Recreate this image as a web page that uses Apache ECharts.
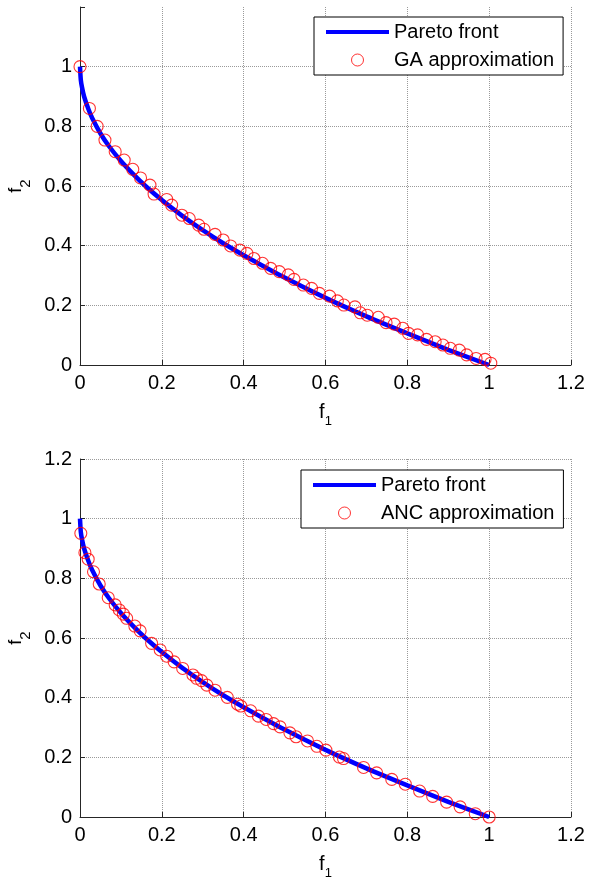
<!DOCTYPE html>
<html>
<head>
<meta charset="utf-8">
<script src="https://cdn.jsdelivr.net/npm/echarts@6/dist/echarts.min.js"></script>
<style>
  html, body { margin: 0; padding: 0; background: #fff; }
  #chart1 { width: 594px; height: 880px; }
</style>
</head>
<body>
<div id="chart1"></div>
<script>
// Pareto front (same curve in both panels)
var frontF1 = [0, 0.002, 0.005, 0.01, 0.02, 0.03, 0.05, 0.07, 0.1, 0.13, 0.16, 0.2, 0.25, 0.3, 0.35, 0.4, 0.5, 0.6, 0.7, 0.8, 0.9, 1.0];
var frontF2 = [1, 0.955, 0.93, 0.9, 0.86, 0.827, 0.776, 0.735, 0.684, 0.64, 0.6, 0.553, 0.5, 0.452, 0.408, 0.368, 0.293, 0.225, 0.163, 0.106, 0.051, 0];

// GA approximation (top panel)
var gaF1 = [0, 0.023, 0.042, 0.061, 0.086, 0.108, 0.129, 0.148, 0.171, 0.181, 0.212, 0.224, 0.249, 0.267, 0.290, 0.303, 0.330, 0.350, 0.368, 0.391, 0.408, 0.425, 0.446, 0.466, 0.487, 0.509, 0.523, 0.546, 0.566, 0.585, 0.610, 0.629, 0.645, 0.672, 0.685, 0.702, 0.729, 0.748, 0.768, 0.789, 0.803, 0.825, 0.847, 0.868, 0.887, 0.905, 0.927, 0.945, 0.968, 0.990, 1.004];
var gaF2 = [1.0, 0.86, 0.80, 0.754, 0.715, 0.687, 0.656, 0.627, 0.603, 0.573, 0.555, 0.536, 0.502, 0.491, 0.469, 0.455, 0.438, 0.419, 0.399, 0.385, 0.374, 0.357, 0.341, 0.324, 0.313, 0.302, 0.287, 0.268, 0.257, 0.240, 0.231, 0.215, 0.201, 0.195, 0.175, 0.167, 0.160, 0.142, 0.137, 0.123, 0.106, 0.101, 0.086, 0.078, 0.067, 0.056, 0.050, 0.034, 0.022, 0.019, 0.006];

// ANC approximation (bottom panel)
var ancF1 = [0.002, 0.012, 0.020, 0.033, 0.047, 0.069, 0.086, 0.096, 0.106, 0.114, 0.134, 0.147, 0.175, 0.196, 0.212, 0.230, 0.251, 0.276, 0.285, 0.297, 0.310, 0.330, 0.360, 0.385, 0.393, 0.417, 0.436, 0.455, 0.473, 0.489, 0.513, 0.528, 0.556, 0.579, 0.601, 0.634, 0.644, 0.693, 0.725, 0.762, 0.795, 0.830, 0.862, 0.896, 0.929, 0.966, 1.000];
var ancF2 = [0.951, 0.886, 0.864, 0.822, 0.781, 0.735, 0.711, 0.694, 0.680, 0.666, 0.640, 0.624, 0.582, 0.560, 0.539, 0.520, 0.498, 0.476, 0.465, 0.457, 0.442, 0.425, 0.401, 0.378, 0.372, 0.356, 0.338, 0.327, 0.313, 0.302, 0.282, 0.269, 0.255, 0.237, 0.224, 0.201, 0.196, 0.166, 0.148, 0.126, 0.110, 0.087, 0.069, 0.050, 0.034, 0.011, 0.000];

var axisMin = 0, axisMax = 1.2, axisStep = 0.2;

function pairs(xs, ys) {
    var out = [];
    for (var i = 0; i < xs.length; i++) out.push([xs[i], ys[i]]);
    return out;
}

var font = 'Liberation Sans, Arial, Helvetica, sans-serif';
var xNameRich = {
    f: { fontSize: 20, fontFamily: font, color: '#000' },
    s: { fontSize: 13, fontFamily: font, color: '#000', padding: [19, 0, 0, 0] }
};
// rotated y name: subscript sits further down
var yNameRich = {
    f: { fontSize: 18, fontFamily: font, color: '#000' },
    s: { fontSize: 15, fontFamily: font, color: '#000', padding: [20, 0, 0, 0] }
};

function xAx(grid) {
    return {
        type: 'value', gridIndex: grid, min: axisMin, max: axisMax, interval: axisStep,
        name: '{f|f}{s|1}', nameLocation: 'middle', nameGap: 31,
        nameTextStyle: { rich: xNameRich },
        axisLine: { show: true, onZero: false, lineStyle: { color: '#262626', width: 1 } },
        axisTick: { show: true, inside: true, length: 5, lineStyle: { color: '#262626' } },
        axisLabel: { fontSize: 20, fontFamily: font, color: '#000', margin: 8 },
        splitLine: { show: true, lineStyle: { color: '#9a9a9a', type: 'dotted', width: 1 } }
    };
}

function yAx(grid, hideTop) {
    return {
        type: 'value', gridIndex: grid, min: axisMin, max: axisMax, interval: axisStep,
        name: '{f|f}{s|2}', nameLocation: 'middle', nameGap: 45, nameRotate: 90,
        nameTextStyle: { rich: yNameRich },
        axisLine: { show: true, onZero: false, lineStyle: { color: '#262626', width: 1 } },
        axisTick: { show: true, inside: true, length: 5, lineStyle: { color: '#262626' } },
        axisLabel: {
            fontSize: 20, fontFamily: font, color: '#000', margin: 8,
            formatter: function (v) { return (hideTop && v > 1.1) ? '' : String(+v.toFixed(1)); }
        },
        splitLine: { show: true, showMaxLine: !hideTop, lineStyle: { color: '#9a9a9a', type: 'dotted', width: 1 } }
    };
}

function legendFor(name2, left, top) {
    return {
        orient: 'vertical', left: left, top: top,
        padding: [5, 9, 5, 12], itemGap: 8, itemWidth: 63, itemHeight: 12, itemTextGap: 5,
        backgroundColor: '#fff', borderColor: '#000', borderWidth: 1, borderRadius: 0,
        selectedMode: false,
        textStyle: { fontSize: 20, fontFamily: font, color: '#000' },
        data: [
            { name: 'Pareto front', icon: 'path://M0,0H63V4H0Z', itemStyle: { color: '#0000ff' } },
            { name: name2, icon: 'circle', itemStyle: { color: 'transparent', borderColor: '#ff0000', borderWidth: 1 } }
        ]
    };
}

function frontSeries(idx) {
    return {
        name: 'Pareto front', type: 'line', xAxisIndex: idx, yAxisIndex: idx,
        data: pairs(frontF1, frontF2), symbol: 'none', smooth: 0.2, z: 2,
        color: '#0000ff', lineStyle: { color: '#0000ff', width: 4.5 }
    };
}

function approxSeries(idx, name, xs, ys) {
    return {
        name: name, type: 'scatter', xAxisIndex: idx, yAxisIndex: idx,
        data: pairs(xs, ys), symbol: 'circle', symbolSize: 12, z: 3,
        itemStyle: { color: 'transparent', borderColor: '#ff0000', borderWidth: 1.1 }
    };
}

var chart = echarts.init(document.getElementById('chart1'));

var option = {
    animation: false,
    backgroundColor: '#fff',
    grid: [
        { left: 80, right: 23, top: 7, height: 358, containLabel: false, outerBoundsMode: 'none' },
        { left: 80, right: 23, top: 459, height: 358, containLabel: false, outerBoundsMode: 'none' }
    ],
    legend: [
        legendFor('GA approximation', 314, 17),
        legendFor('ANC approximation', 301, 470)
    ],
    xAxis: [xAx(0), xAx(1)],
    yAxis: [yAx(0, true), yAx(1, false)],
    series: [
        frontSeries(0),
        approxSeries(0, 'GA approximation', gaF1, gaF2),
        frontSeries(1),
        approxSeries(1, 'ANC approximation', ancF1, ancF2)
    ]
};

chart.setOption(option);
</script>
</body>
</html>
